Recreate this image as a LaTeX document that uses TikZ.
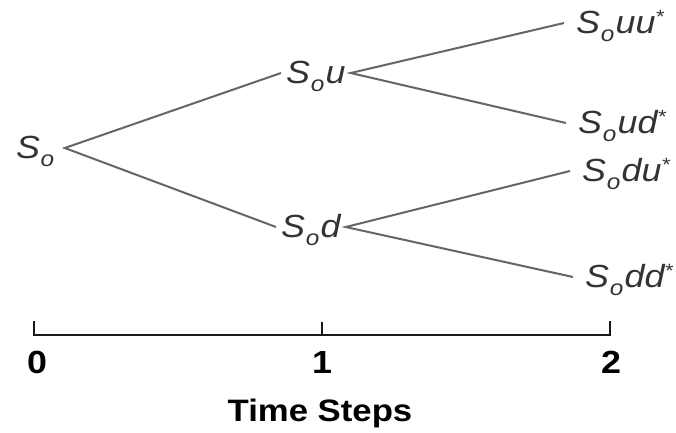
\documentclass[tikz,border=0pt]{standalone}
\usepackage{fontspec}
\usepackage{graphicx}
\setmainfont[FakeStretch=1.12]{Liberation Sans}
\newcommand\lowo{\kern0.02em\raisebox{-0.25em}{\scalebox{0.68}{o}}\kern0.04em}
\newcommand\mystar{\raisebox{0.3em}{\scalebox{0.6}{*}}}
\tikzset{
  price/.style={font=\fontsize{32}{32}\selectfont\itshape, text=black!80,
    text height=20pt, text depth=0pt, inner ysep=0pt, anchor=base west},
  rootnode/.style={price, inner xsep=9pt},
  midnode/.style={price, inner xsep=5pt},
  leafnode/.style={price, inner xsep=12pt},
  branch/.style={draw=black!60, line width=2pt},
  axis/.style={draw=black!90, line width=2.4pt},
  steplabel/.style={font=\fontsize{32}{32}\selectfont\bfseries, text=black, anchor=base}
}
\begin{document}
\begin{tikzpicture}[x=1pt,y=-1pt]
  \useasboundingbox (0,0) rectangle (676,432);
  \fill[white] (0,0) rectangle (676,432);

  % lattice nodes
  \node[rootnode] (s0)  at (7,158)   {S\lowo};
  \node[midnode]  (su)  at (281,83)  {S\lowo u};
  \node[midnode]  (sd)  at (276,237) {S\lowo d};
  \node[leafnode] (suu) at (564,33)  {S\lowo uu\mystar};
  \node[leafnode] (sud) at (566,133) {S\lowo ud\mystar};
  \node[leafnode] (sdu) at (570,181) {S\lowo du\mystar};
  \node[leafnode] (sdd) at (573,287) {S\lowo dd\mystar};

  % branches
  \draw[branch] (su.west) -- (s0.east) -- (sd.west);
  \draw[branch] (suu.west) -- (su.east) -- (sud.west);
  \draw[branch] (sdu.west) -- (sd.east) -- (sdd.west);

  % time axis
  \coordinate (t0) at (34,335);
  \coordinate (t1) at (322,335);
  \coordinate (t2) at (610,335);
  \draw[axis, line cap=rect] (t0) ++(0,-13) -- (t0) -- (t2) -- ++(0,-13);
  \draw[axis] (t1) -- ++(0,-13);
  \node[steplabel] (l0) at (37,373) {0};
  \node[steplabel] (l1) at (322,373) {1};
  \node[steplabel] (l2) at (611,373) {2};
  \node[steplabel, font=\fontsize{31}{31}\selectfont\bfseries] (title) at (320,421) {Time Steps};
\end{tikzpicture}
\end{document}
